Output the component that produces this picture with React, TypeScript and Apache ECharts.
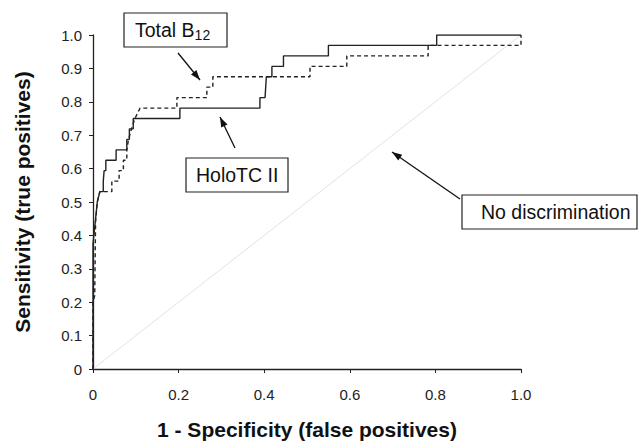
import React, { useEffect, useRef } from "react";
import * as echarts from "echarts";

// HoloTC II (solid) ROC curve
const holoX = [0, 0, 0.005, 0.01, 0.016, 0.024, 0.024, 0.026, 0.03, 0.03, 0.054, 0.054, 0.079, 0.079, 0.085, 0.085, 0.094, 0.094, 0.203, 0.203, 0.39, 0.39, 0.402, 0.405, 0.418, 0.418, 0.445, 0.445, 0.55, 0.55, 0.803, 0.803, 1.0];
const holoY = [0, 0.375, 0.4375, 0.5, 0.531, 0.531, 0.5625, 0.594, 0.594, 0.625, 0.625, 0.656, 0.656, 0.6875, 0.6875, 0.719, 0.719, 0.75, 0.75, 0.781, 0.781, 0.8125, 0.8125, 0.875, 0.875, 0.906, 0.906, 0.9375, 0.9375, 0.969, 0.969, 1.0, 1.0];

// Total B12 (dashed) ROC curve
const totalX = [0, 0, 0.004, 0.006, 0.01, 0.016, 0.044, 0.044, 0.061, 0.061, 0.071, 0.071, 0.079, 0.079, 0.083, 0.09, 0.098, 0.11, 0.196, 0.196, 0.266, 0.266, 0.28, 0.28, 0.507, 0.507, 0.593, 0.593, 0.783, 0.783, 1.0, 1.0];
const totalY = [0, 0.2, 0.22, 0.44, 0.5, 0.531, 0.531, 0.5625, 0.5625, 0.594, 0.594, 0.625, 0.625, 0.656, 0.6875, 0.719, 0.75, 0.781, 0.781, 0.8125, 0.8125, 0.844, 0.844, 0.875, 0.875, 0.906, 0.906, 0.9375, 0.9375, 0.969, 0.969, 1.0];

// No discrimination line
const diagX = [0, 1];
const diagY = [0, 1];

const xTitle = "1 - Specificity (false positives)";
const yTitle = "Sensitivity (true positives)";

const FONT = "Liberation Sans, Arial, sans-serif";

function arrowHead(x1: number, y1: number, x2: number, y2: number) {
  const a = Math.atan2(y2 - y1, x2 - x1);
  const L = 10, W = 3.5;
  const c = Math.cos(a), s = Math.sin(a);
  return [
    [x2, y2],
    [x2 - L * c + W * s, y2 - L * s - W * c],
    [x2 - L * c - W * s, y2 - L * s + W * c],
  ];
}

function arrow(x1: number, y1: number, x2: number, y2: number) {
  return [
    { type: "line", shape: { x1, y1, x2, y2 }, style: { stroke: "#111", lineWidth: 1.3 } },
    { type: "polygon", shape: { points: arrowHead(x1, y1, x2, y2) }, style: { fill: "#111" } },
  ];
}

function box(x: number, y: number, w: number, h: number, text: string, tx: number, rich?: any) {
  return [
    { type: "rect", shape: { x, y, width: w, height: h }, style: { fill: "#fff", stroke: "#222", lineWidth: 1.2 }, z: 10 },
    {
      type: "text",
      x: tx,
      y: y + h / 2,
      z: 11,
      style: {
        text,
        align: "left",
        verticalAlign: "middle",
        fontSize: 19.5,
        fontFamily: FONT,
        fill: "#111",
        rich,
      },
    },
  ];
}

export default function App() {
  const ref = useRef<HTMLDivElement>(null);
  useEffect(() => {
    document.body.style.margin = "0";
    const chart = echarts.init(ref.current!, undefined, { renderer: "svg" });
    const pair = (xs: number[], ys: number[]) => xs.map((x, i) => [x, ys[i]]);
    const fmt = (v: number) => (v === 0 ? "0" : v.toFixed(1));
    chart.setOption({
      animation: false,
      backgroundColor: "#fff",
      grid: { left: 93, right: 117, top: 35, bottom: 69 },
      xAxis: {
        type: "value",
        min: 0,
        max: 1,
        interval: 0.2,
        name: xTitle,
        nameLocation: "middle",
        nameGap: 50,
        nameTextStyle: { fontSize: 21, fontWeight: "bold", fontFamily: FONT, color: "#111" },
        axisLine: { lineStyle: { color: "#222", width: 1.3 } },
        axisTick: { length: 4, lineStyle: { color: "#222" } },
        axisLabel: { formatter: fmt, fontSize: 15, fontFamily: FONT, color: "#222", margin: 18, showMaxLabel: true },
        splitLine: { show: false },
      },
      yAxis: {
        type: "value",
        min: 0,
        max: 1,
        interval: 0.1,
        name: yTitle,
        nameLocation: "middle",
        nameGap: 60,
        nameTextStyle: { fontSize: 21, fontWeight: "bold", fontFamily: FONT, color: "#111" },
        axisLine: { show: true, lineStyle: { color: "#222", width: 1.3 } },
        axisTick: { show: true, length: 4, lineStyle: { color: "#222" } },
        axisLabel: { formatter: fmt, fontSize: 15, fontFamily: FONT, color: "#222", margin: 11, showMaxLabel: true },
        splitLine: { show: false },
      },
      series: [
        {
          type: "line",
          data: pair(diagX, diagY),
          showSymbol: false,
          lineStyle: { color: "#e2e2e2", width: 1 },
          z: 1,
        },
        {
          type: "line",
          name: "HoloTC II",
          data: pair(holoX, holoY),
          showSymbol: false,
          lineStyle: { color: "#222", width: 1.4 },
          z: 3,
        },
        {
          type: "line",
          name: "Total B12",
          data: pair(totalX, totalY),
          showSymbol: false,
          lineStyle: { color: "#222", width: 1.4, type: [4, 3] },
          z: 2,
        },
      ],
      graphic: [
        ...box(124, 13, 103, 34, "{a|Total B}{b|12}", 135, {
          a: { fontSize: 19.5, fontFamily: FONT, fill: "#111" },
          b: { fontSize: 14, fontFamily: FONT, fill: "#111", padding: [10, 0, 0, 0] },
        }),
        ...box(186, 158, 102, 34, "HoloTC II", 196),
        ...box(462, 195, 175, 34, "No discrimination", 481),
        ...arrow(178, 53, 200, 80),
        ...arrow(235, 148, 220, 117),
        ...arrow(460, 199, 392, 152),
      ],
    });
    return () => chart.dispose();
  }, []);
  return (
    <div
      ref={ref}
      style={{ position: "fixed", left: 0, top: 0, width: 638, height: 445 }}
    />
  );
}
